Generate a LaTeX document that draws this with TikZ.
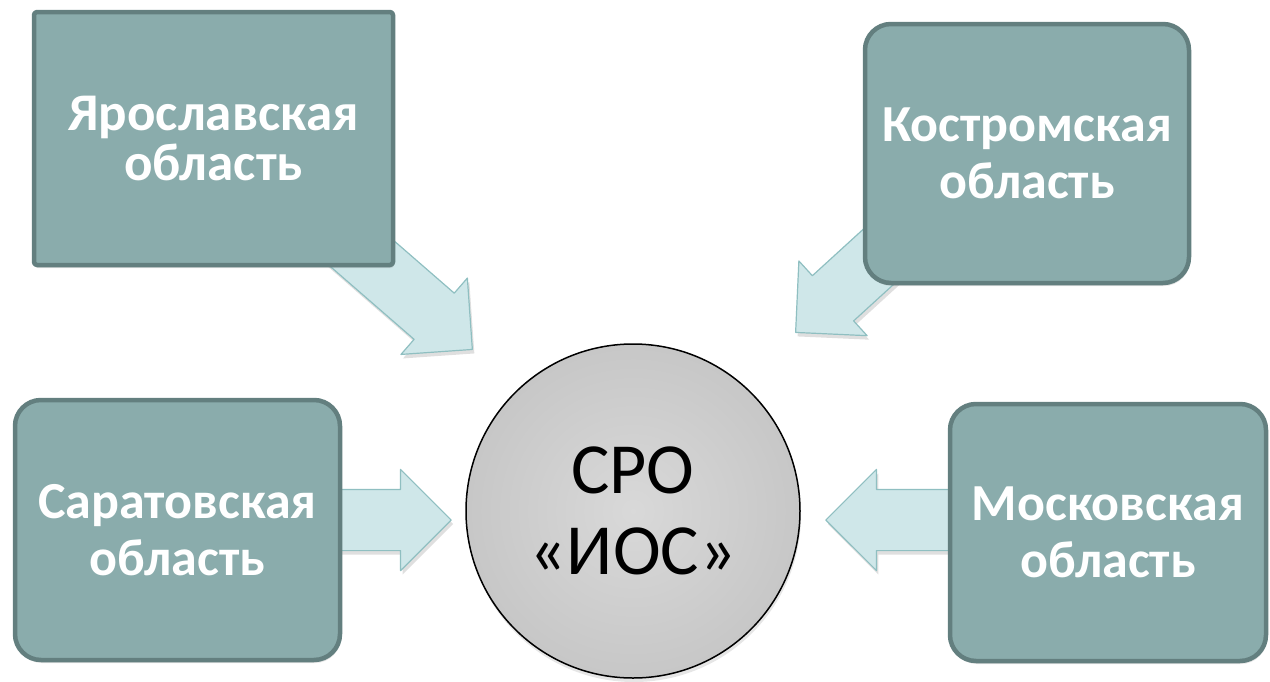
\documentclass[tikz,border=0pt]{standalone}
\usepackage{fontspec}
\setmainfont{Carlito}
\usetikzlibrary{shapes.arrows,shadows}
\definecolor{boxfill}{HTML}{8AACAC}
\definecolor{boxline}{HTML}{637F7F}
\definecolor{arrfill}{HTML}{CFE7E9}
\definecolor{arrline}{HTML}{8FBFC1}
\begin{document}
\begin{tikzpicture}[x=1pt, y=-1pt, line join=round,
 region/.style={draw=boxline, fill=boxfill, line width=4.5pt, rounded corners=26pt, text=white, align=center,
   font=\bfseries\fontsize{52}{57}\selectfont, drop shadow={shadow xshift=1pt, shadow yshift=-3pt, opacity=0.2}},
 flow/.style={single arrow, single arrow head extend=20pt, inner xsep=0pt, inner ysep=30pt, anchor=tip,
   fill=arrfill, draw=arrline, line width=1.2pt, drop shadow={shadow xshift=2pt, shadow yshift=-4pt, opacity=0.25}}]
 \useasboundingbox (0,0) rectangle (1270,681);
 % block arrows towards the centre
 \node[flow, minimum height=180pt, rotate=-41] (ayar) at (473,350) {};
 \node[flow, minimum height=150pt, rotate=-137.6] (akos) at (795,333) {};
 \node[flow, minimum height=150pt] (asar) at (452,520) {};
 \node[flow, minimum height=150pt, rotate=180] (amos) at (825,520) {};
 % regions
 \node[region, rounded corners=3pt, minimum width=359pt, minimum height=253pt, font=\bfseries\fontsize{53}{50}\selectfont] (yar) at (213.5,138.5) {Ярославская\\область};
 \node[region, minimum width=324pt, minimum height=259pt] (kos) at (1027,153.5) {Костромская\\область};
 \node[region, minimum width=325pt, minimum height=260pt] (sar) at (177.5,530) {Саратовская\\область};
 \node[region, minimum width=316pt, minimum height=257pt] (mos) at (1108,532.5) {Московская\\область};
 % centre
 \node[circle, draw=black, line width=1.5pt, shading=radial, inner color=gray!30, outer color=gray!44, minimum size=334pt,
   align=center, font=\fontsize{72}{81}\selectfont, drop shadow={shadow xshift=1pt, shadow yshift=-4pt, opacity=0.2}] (sro) at (633,511) {СРО\\«ИОС»};
\end{tikzpicture}
\end{document}
